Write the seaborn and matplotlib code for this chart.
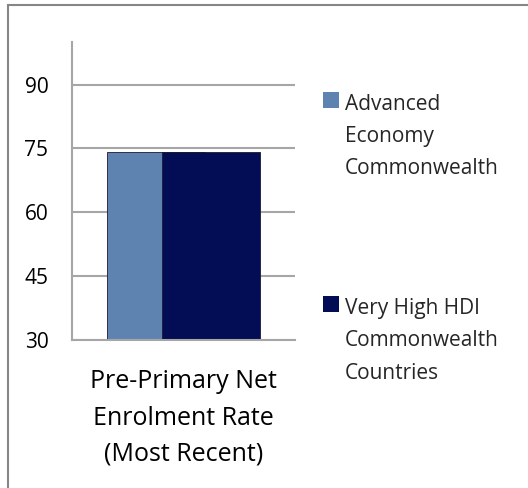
import matplotlib
matplotlib.use("Agg")
import matplotlib.pyplot as plt
import pandas as pd
import seaborn as sns
from matplotlib.patches import Rectangle
from matplotlib.legend_handler import HandlerBase

# data
categories = ["Pre-Primary Net\nEnrolment Rate\n(Most Recent)"]
series = ["Advanced\nEconomy\nCommonwealth", "Very High HDI\nCommonwealth\nCountries"]
values = [74.1, 74.1]
colors = ["#5f83b1", "#030d55"]
yticks = [30, 45, 60, 75, 90]

df = pd.DataFrame({"metric": categories * len(series), "group": series, "value": values})

sns.set_theme(style="white")
plt.rcParams["font.family"] = ["Open Sans", "DejaVu Sans"]

LSP = 1.7


class TopSquare(HandlerBase):
    # legend square sits next to the first line of a multi-line label
    def create_artists(self, legend, orig_handle, xdescent, ydescent,
                       width, height, fontsize, trans):
        s = 0.75 * fontsize
        y = -ydescent + height / 2 + 1.2 * LSP * fontsize - s / 2 - 0.25 * fontsize
        r = Rectangle((-xdescent + width - s, y), s, s,
                      facecolor=orig_handle.get_facecolor(),
                      edgecolor="none", transform=trans)
        return [r]


fig = plt.figure(figsize=(5.28, 4.88), dpi=100)
ax = fig.add_axes([0.1364, 0.3033, 0.4223, 0.6107])

sns.barplot(data=df, x="metric", y="value", hue="group", palette=colors,
            dodge=True, width=0.686, saturation=1, errorbar=None,
            legend=False, ax=ax)

# overlapping bars (Excel style overlap)
bw = 0.44
for i, p in enumerate(ax.patches):
    x0, w = p.get_x(), p.get_width()
    if i == 0:
        p.set_width(bw)
    else:
        p.set_x(x0 + w - bw)
        p.set_width(bw)
    p.set_edgecolor("#1a1a2e")
    p.set_linewidth(0.6)

ax.set_ylim(30, 100)
ax.set_xlim(-0.5, 0.5)
ax.set_yticks(yticks)
ax.set_xlabel("")
ax.set_ylabel("")
ax.yaxis.grid(True, color="#a6a6a6", linewidth=1.5)
ax.set_axisbelow(True)
for side in ["top", "right"]:
    ax.spines[side].set_visible(False)
for side in ["left", "bottom"]:
    ax.spines[side].set_color("#a6a6a6")
    ax.spines[side].set_linewidth(1.5)
ax.tick_params(axis="y", length=0, pad=17, labelsize=15, colors="black")
ax.tick_params(axis="x", length=0, pad=21, labelsize=18, colors="black")
for t in ax.get_xticklabels():
    t.set_linespacing(1.6)

handles = [Rectangle((0, 0), 1, 1, facecolor=c) for c in colors]
leg = fig.legend(handles, series, loc="upper left",
                 bbox_to_anchor=(322 / 528, 1 - 94 / 488),
                 frameon=False, borderpad=0, borderaxespad=0,
                 handlelength=0.8, handletextpad=0.3, labelspacing=5.7,
                 fontsize=15, handler_map={Rectangle: TopSquare()})
for t in leg.get_texts():
    t.set_linespacing(LSP)

# outer chart border
fig.patches.append(Rectangle((8 / 528, -0.1), 1.2, (1 - 5 / 488) + 0.1,
                             transform=fig.transFigure, fill=False,
                             edgecolor="#868686", linewidth=1.5))

fig.savefig("out.png", dpi=100)
